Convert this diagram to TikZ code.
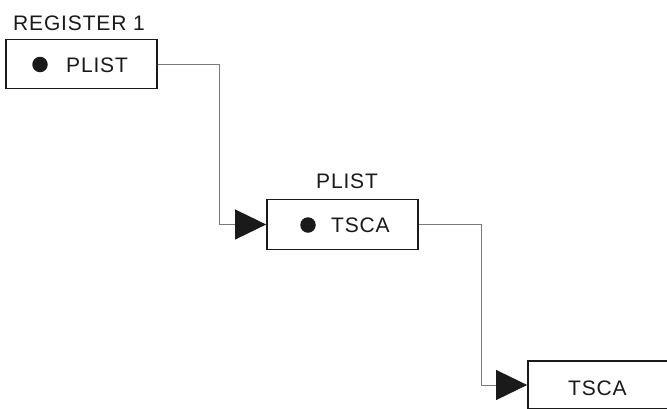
\documentclass[tikz,border=0pt]{standalone}
\usepackage{fontspec}
\setmainfont{Liberation Sans}[LetterSpace=4]
\usetikzlibrary{arrows.meta}
\definecolor{ink}{HTML}{1A1A1A}
\definecolor{wire}{HTML}{7A7A7A}
\begin{document}
\begin{tikzpicture}[x=1pt,y=-1pt,
  regbox/.style={draw=ink,line width=1.8pt,minimum width=151pt,minimum height=49pt,inner sep=0pt},
  txt/.style={anchor=base west,inner sep=0pt,text=ink,font=\fontsize{21}{24}\selectfont},
  dotnode/.style={circle,fill=ink,draw=none,minimum size=15.5pt,inner sep=0pt},
  conn/.style={draw=wire,line width=0.9pt,-{Triangle[length=31pt,width=30pt,color=ink]}}]
\useasboundingbox (0,0) rectangle (667,408);
\clip (0,0) rectangle (667,408);
\fill[white] (0,0) rectangle (667,408);
% boxes
\node[regbox] (box1) at (81.5,64) {};
\node[regbox,minimum height=50pt] (box2) at (342.5,224.5) {};
\node[regbox,minimum height=48pt] (box3) at (603.5,385) {};
% labels
\node[txt] (lab1) at (13,30) {REGISTER 1};
\node[txt] (lab2) at (316,188) {PLIST};
% contents
\node[dotnode] (dot1) at (40,64.5) {};
\node[txt] (t1) at (66,72) {PLIST};
\node[dotnode] (dot2) at (308,225) {};
\node[txt] (t2) at (331,232.5) {TSCA};
\node[txt] (t3) at (568,395) {TSCA};
% connector bends
\coordinate (bend1) at (219,224.5);
\coordinate (bend2) at (481,385);
\draw[conn] (box1.east) -| (bend1) -- (box2.west);
\draw[conn] (box2.east) -| (bend2) -- (box3.west);
\end{tikzpicture}
\end{document}
